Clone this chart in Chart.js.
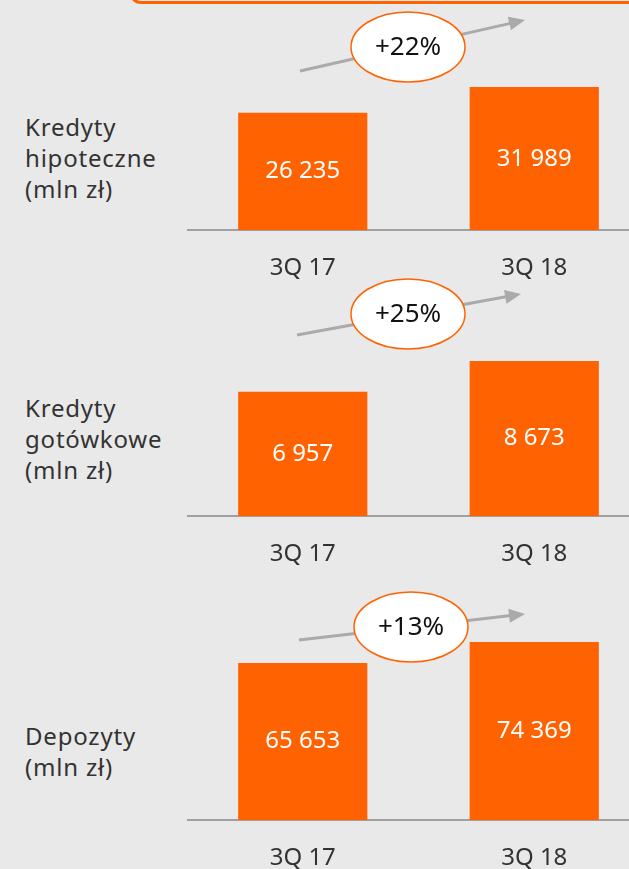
<!DOCTYPE html>
<html>
<head>
  <meta charset="utf-8">
  <script src="https://cdn.jsdelivr.net/npm/chart.js"></script>
  <style>
    html, body {
      margin: 0;
      width: 629px;
      height: 869px;
      overflow: hidden;
      background-color: #e9e9e9;
      font-family: 'Noto Sans', sans-serif;
      color: #333;
    }

    .frame {
      position: absolute;
      left: 129px;
      top: -60px;
      width: 540px;
      height: 58px;
      border: 3px solid #ff6200;
      border-radius: 12px;
    }

    .lbl {
      position: absolute;
      left: 25px;
      font-size: 24px;
      letter-spacing: 0.8px;
      line-height: 31px;
    }

    .panel {
      position: absolute;
      left: 187px;
    }
  </style>
</head>
<body>
  <div class="frame"></div>

  <div class="lbl" style="top:111px">Kredyty<br>hipoteczne<br>(mln zł)</div>
  <div class="lbl" style="top:392px">Kredyty<br>gotówkowe<br>(mln zł)</div>
  <div class="lbl" style="top:720px">Depozyty<br>(mln zł)</div>

  <canvas class="panel" id="c1" width="463" height="317" style="top:-10px"></canvas>
  <canvas class="panel" id="c2" width="463" height="317" style="top:276px"></canvas>
  <canvas class="panel" id="c3" width="463" height="317" style="top:580px"></canvas>

  <script>
    // data
    const quarters = ['3Q 17', '3Q 18'];
    const mortgages = [26235, 31989];
    const cashLoans = [6957, 8673];
    const deposits = [65653, 74369];

    const yMax = [53700, 13430, 100300];

    const ORANGE = '#ff6200';

    // arrow + bubble placement inside each canvas
    const notes = [
      { from: [113, 81], to: [338, 30], bubble: [221, 57] },
      { from: [110, 59], to: [334, 18], bubble: [221, 38] },
      { from: [112, 60], to: [338, 34], bubble: [224, 47] }
    ];

    const fmt = v => String(v).replace(/\B(?=(\d{3})+(?!\d))/g, ' ');

    const labelsPlugin = {
      id: 'labels',
      afterDatasetsDraw(chart, args, opts) {
        const ctx = chart.ctx;
        const meta = chart.getDatasetMeta(0);
        const vals = chart.data.datasets[0].data;
        ctx.save();

        // values inside bars
        ctx.fillStyle = '#fff';
        ctx.font = '24px "Noto Sans"';
        ctx.textAlign = 'center';
        ctx.textBaseline = 'middle';
        meta.data.forEach((bar, i) => {
          ctx.fillText(fmt(vals[i]), bar.x, (bar.y + bar.base) / 2);
        });

        // growth arrow
        const n = opts.note;
        const [x1, y1] = n.from, [x2, y2] = n.to;
        const ang = Math.atan2(y2 - y1, x2 - x1);
        ctx.strokeStyle = '#aaaaaa';
        ctx.fillStyle = '#aaaaaa';
        ctx.lineWidth = 3;
        ctx.beginPath();
        ctx.moveTo(x1, y1);
        ctx.lineTo(x2 - 14 * Math.cos(ang), y2 - 14 * Math.sin(ang));
        ctx.stroke();
        ctx.beginPath();
        ctx.moveTo(x2, y2);
        ctx.lineTo(x2 - 16 * Math.cos(ang) + 7 * Math.sin(ang), y2 - 16 * Math.sin(ang) - 7 * Math.cos(ang));
        ctx.lineTo(x2 - 16 * Math.cos(ang) - 7 * Math.sin(ang), y2 - 16 * Math.sin(ang) + 7 * Math.cos(ang));
        ctx.closePath();
        ctx.fill();

        // bubble with change
        const [bx, by] = n.bubble;
        ctx.beginPath();
        ctx.ellipse(bx, by, 57, 35, 0, 0, Math.PI * 2);
        ctx.fillStyle = '#fff';
        ctx.fill();
        ctx.lineWidth = 1.5;
        ctx.strokeStyle = ORANGE;
        ctx.stroke();

        const pct = Math.round((vals[1] / vals[0] - 1) * 100);
        ctx.fillStyle = '#111';
        ctx.font = '26px "Noto Sans"';
        ctx.fillText('+' + pct + '%', bx, by + 1);
        ctx.restore();
      }
    };

    function makeChart(id, values, max, note) {
      new Chart(document.getElementById(id), {
        type: 'bar',
        data: {
          labels: quarters,
          datasets: [{
            data: values,
            backgroundColor: ORANGE,
            barPercentage: 0.558,
            categoryPercentage: 1
          }]
        },
        options: {
          responsive: false,
          animation: false,
          layout: { padding: 0 },
          plugins: {
            legend: { display: false },
            tooltip: { enabled: false },
            labels: { note }
          },
          scales: {
            x: {
              grid: { display: false, drawTicks: false },
              border: { color: '#a0a0a0', width: 2 },
              ticks: {
                color: '#333',
                padding: 24,
                font: { family: 'Noto Sans', size: 24 }
              }
            },
            y: { display: false, min: 0, max }
          }
        },
        plugins: [labelsPlugin]
      });
    }

    makeChart('c1', mortgages, yMax[0], notes[0]);
    makeChart('c2', cashLoans, yMax[1], notes[1]);
    makeChart('c3', deposits, yMax[2], notes[2]);
  </script>
</body>
</html>
